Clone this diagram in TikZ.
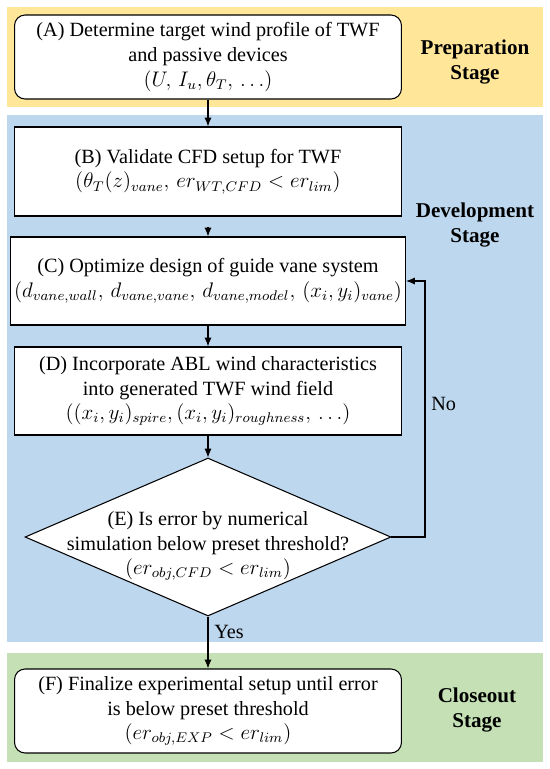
\documentclass[tikz,border=0pt]{standalone}
\usepackage{amsmath}
\usepackage{fontspec}
\setmainfont{LiberationSerif}[Extension=.ttf, UprightFont=*-Regular,
  BoldFont=*-Bold, ItalicFont=*-Italic, BoldItalicFont=*-BoldItalic]
\usetikzlibrary{shapes.geometric, arrows.meta, positioning, calc}
\definecolor{prepyellow}{RGB}{255,230,153}
\definecolor{devblue}{RGB}{189,215,238}
\definecolor{closegreen}{RGB}{197,224,180}
\newcommand{\boxfont}{\fontsize{11.5}{14}\selectfont}
\newcommand{\stagefont}{\fontsize{12}{14.5}\selectfont\bfseries}

\tikzset{
  stepbox/.style={draw, fill=white, line width=0.6pt, minimum width=7.74cm,
                  align=center, inner sep=2pt, font=\boxfont},
  roundbox/.style={stepbox, rounded corners=6pt},
  decision/.style={diamond, draw, fill=white, line width=0.6pt,
                   minimum width=7.32cm, minimum height=3.16cm, inner sep=0pt},
  stagelabel/.style={font=\stagefont, align=center},
  flow/.style={-{Latex[length=5pt,width=4pt]}, line width=0.6pt},
}

\begin{document}
\begin{tikzpicture}[x=0.02cm, y=-0.02cm]
    \useasboundingbox (0,0) rectangle (550,769);

    % Stage bands
    \fill[prepyellow] (7,7) rectangle (543,107);
    \fill[devblue] (7,115) rectangle (543,642);
    \fill[closegreen] (7,653) rectangle (543,762);

    % Preparation stage
    \node[roundbox, minimum height=1.68cm] (A) at (208,57)
        {(A) Determine target wind profile of TWF\\ and passive devices\\
         $(U,\, I_u,\theta_T,\, \ldots)$};

    % Development stage
    \node[stepbox, minimum height=1.78cm] (B) at (208,171.5)
        {(B) Validate CFD setup for TWF\\
         $(\theta_T(z)_{vane},\, er_{WT,CFD} < er_{lim})$};
    \node[stepbox, minimum height=1.76cm] (C) at (208,281)
        {(C) Optimize design of guide vane system\\
         $(d_{vane,wall},\, d_{vane,vane},\, d_{vane,model},\, (x_i, y_i)_{vane})$};
    \node[stepbox, minimum height=1.76cm] (D) at (208,391)
        {(D) Incorporate ABL wind characteristics\\ into generated TWF wind field\\
         $((x_i, y_i)_{spire},(x_i, y_i)_{roughness},\, \ldots)$};
    \node[decision] (E) at (208,537) {};
    \node[font=\boxfont, align=center] (Etext) at ($(E)+(0,9)$)
        {(E) Is error by numerical\\ simulation below preset threshold?\\
         $(er_{obj,CFD} < er_{lim})$};

    % Closeout stage
    \node[roundbox, minimum height=1.68cm] (F) at (208,711)
        {(F) Finalize experimental setup until error\\ is below preset threshold\\
         $(er_{obj,EXP} < er_{lim})$};

    % Stage labels
    \node[stagelabel] (prep) at (475,62) {Preparation\\ Stage};
    \node[stagelabel] (dev) at (475,225) {Development\\ Stage};
    \node[stagelabel] (close) at (477,710) {Closeout\\ Stage};

    % Connectors
    \draw[flow] (A) -- (B);
    \draw[flow] ([yshift=-0.2cm]B.south) -- (C.north);
    \draw[flow] (C) -- (D);
    \draw[flow] (D) -- (E);
    \draw[flow] (E.south) -- (F.north) node[pos=0.3, right] {\boxfont Yes};
    \coordinate (loop) at (425,537);
    \draw[flow] (E.east) -- (loop) |- (C.east)
        node[pos=0.26, right] {\boxfont No};
\end{tikzpicture}
\end{document}
